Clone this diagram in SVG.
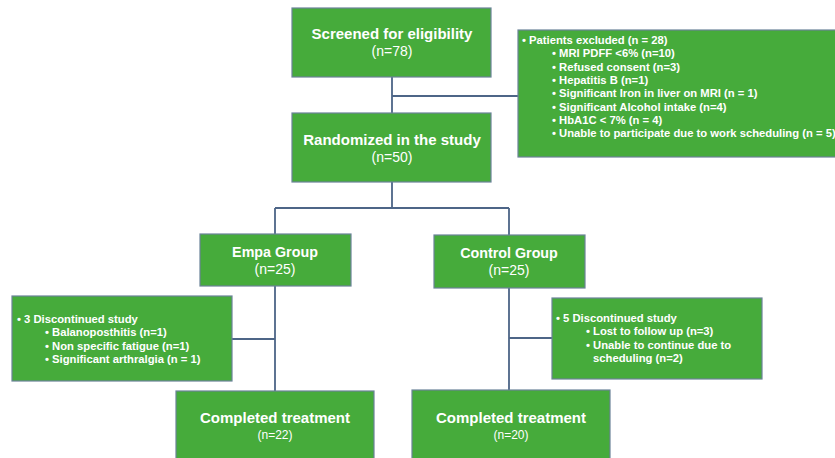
<svg xmlns="http://www.w3.org/2000/svg" width="835" height="458" viewBox="0 0 835 458">
<style>
.box{fill:#46ab3b;stroke:#6b8398;stroke-width:1.2}
.conn{stroke:#4d6587;stroke-width:1.8;fill:none}
text{font-family:"Liberation Sans",Arial,sans-serif;fill:#ffffff}
.t{font-weight:bold;font-size:15px;text-anchor:middle}
.g{font-weight:bold;font-size:14.3px;text-anchor:middle}
.n{font-size:14px;text-anchor:middle}
.ns{font-size:12px;text-anchor:middle}
.l{font-weight:bold;font-size:11.25px}
</style>
<rect width="835" height="458" fill="#ffffff"/>
<g id="connectors">
<path class="conn" d="M392 77V113M392 96H518M392 182V208M275 208H509M275 208V234M509 208V235M275 286V391M509 288V390M232 339H275M509 338H552"/>
</g>
<g id="screened">
<rect class="box" x="292" y="8" width="199" height="69"/>
<text class="t" x="392" y="39">Screened for eligibility</text>
<text class="n" x="392" y="56">(n=78)</text>
</g>
<g id="excluded">
<rect class="box" x="518" y="30" width="330" height="127"/>
<text class="l" x="522" y="44">• Patients excluded (n = 28)</text>
<text class="l" x="552" y="57.3">• MRI PDFF &lt;6% (n=10)</text>
<text class="l" x="552" y="70.6">• Refused consent (n=3)</text>
<text class="l" x="552" y="83.9">• Hepatitis B (n=1)</text>
<text class="l" x="552" y="97.2">• Significant Iron in liver on MRI (n = 1)</text>
<text class="l" x="552" y="110.5">• Significant Alcohol intake (n=4)</text>
<text class="l" x="552" y="123.8">• HbA1C &lt; 7% (n = 4)</text>
<text class="l" x="552" y="137.1">• Unable to participate due to work scheduling (n = 5)</text>
</g>
<g id="randomized">
<rect class="box" x="292" y="113" width="199" height="69"/>
<text class="t" x="392" y="145">Randomized in the study</text>
<text class="n" x="392" y="162">(n=50)</text>
</g>
<g id="empa">
<rect class="box" x="200" y="234" width="151" height="52"/>
<text class="g" x="275" y="257">Empa Group</text>
<text class="n" x="275" y="274">(n=25)</text>
</g>
<g id="control">
<rect class="box" x="434" y="235" width="151" height="53"/>
<text class="g" x="509" y="258">Control Group</text>
<text class="n" x="509" y="275">(n=25)</text>
</g>
<g id="disc-empa">
<rect class="box" x="12" y="296" width="220" height="85"/>
<text class="l" x="17" y="323">• 3 Discontinued study</text>
<text class="l" x="45" y="336.3">• Balanoposthitis (n=1)</text>
<text class="l" x="45" y="349.6">• Non specific fatigue (n=1)</text>
<text class="l" x="45" y="362.9">• Significant arthralgia (n = 1)</text>
</g>
<g id="disc-control">
<rect class="box" x="552" y="298" width="210" height="81"/>
<text class="l" x="556" y="322">• 5 Discontinued study</text>
<text class="l" x="586" y="335.3">• Lost to follow up (n=3)</text>
<text class="l" x="586" y="348.6">• Unable to continue due to</text>
<text class="l" x="593" y="361.9">scheduling (n=2)</text>
</g>
<g id="completed-empa">
<rect class="box" x="176" y="391" width="198" height="80"/>
<text class="t" x="275" y="423">Completed treatment</text>
<text class="ns" x="275" y="439">(n=22)</text>
</g>
<g id="completed-control">
<rect class="box" x="412" y="390" width="198" height="80"/>
<text class="t" x="511" y="423">Completed treatment</text>
<text class="ns" x="511" y="439">(n=20)</text>
</g>
</svg>
